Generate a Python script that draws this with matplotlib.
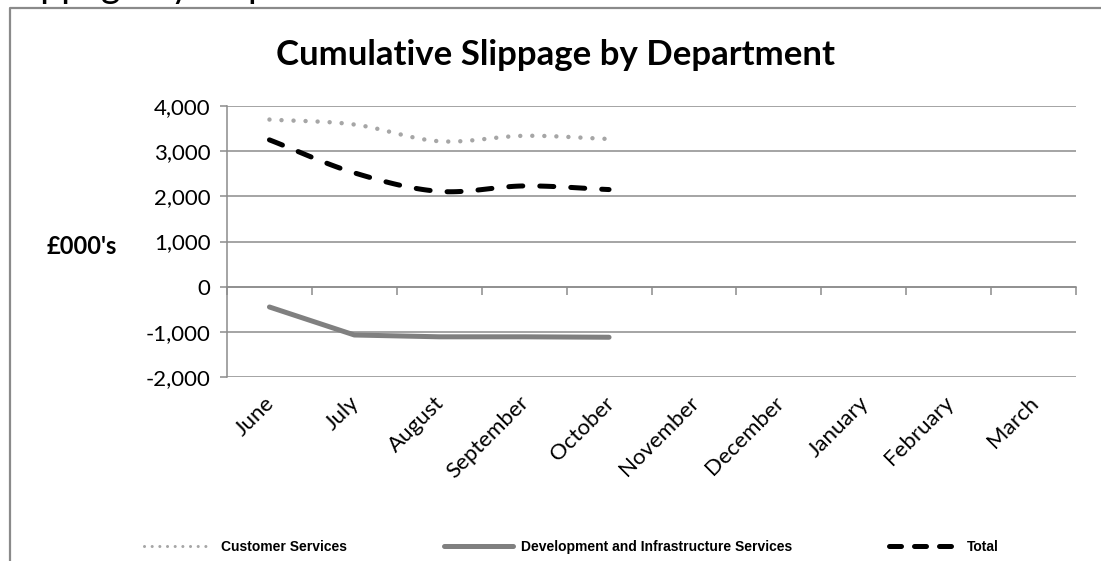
import numpy as np
import matplotlib
matplotlib.use("Agg")
import matplotlib.pyplot as plt
from matplotlib.lines import Line2D
from matplotlib.transforms import blended_transform_factory

months = ["June", "July", "August", "September", "October",
          "November", "December", "January", "February", "March"]
customer_services = [3700, 3590, 3220, 3340, 3270]
dev_infra_services = [-450, -1070, -1110, -1110, -1120]
total = [3250, 2520, 2110, 2230, 2150]
y_ticks = [-2000, -1000, 0, 1000, 2000, 3000, 4000]

W, H = 1101, 561
GRID = "#8c8c8c"
FONT = "Lato"


def smooth(xs, ys, n=30):
    # Catmull-Rom curve through the points, like a spreadsheet "smoothed line"
    xs = np.asarray(xs, float)
    ys = np.asarray(ys, float)
    px = np.concatenate([[2 * xs[0] - xs[1]], xs, [2 * xs[-1] - xs[-2]]])
    py = np.concatenate([[2 * ys[0] - ys[1]], ys, [2 * ys[-1] - ys[-2]]])
    out_x, out_y = [], []
    t = np.linspace(0, 1, n)
    for i in range(1, len(px) - 2):
        for p, out in ((px, out_x), (py, out_y)):
            p0, p1, p2, p3 = p[i - 1], p[i], p[i + 1], p[i + 2]
            c1 = p1 + (p2 - p0) / 6
            c2 = p2 - (p3 - p1) / 6
            out.extend((1 - t) ** 3 * p1 + 3 * (1 - t) ** 2 * t * c1
                       + 3 * (1 - t) * t ** 2 * c2 + t ** 3 * p2)
    return np.array(out_x), np.array(out_y)


fig = plt.figure(figsize=(W / 100, H / 100), dpi=100)
ax = fig.add_axes([227 / W, 1 - 377 / H, (1076 - 227) / W, (377 - 106) / H])

# outer chart frame, left and top edges only
fig.add_artist(Line2D([10 / W, 10 / W, 1], [0, 1 - 8 / H, 1 - 8 / H],
                      transform=fig.transFigure, color="#8a8a8a", lw=1.6))
fig.text(2 / W, 1 + 3 / H, "Slippage by Department", fontsize=27,
         family=FONT, va="baseline", ha="left")

x = np.arange(len(customer_services))
sx, sy = smooth(x, customer_services)
ax.plot(sx, sy, color="#a6a6a6", lw=3.2, dashes=(0.01, 2.7),
        dash_capstyle="round", zorder=3)
ax.plot(x, dev_infra_services, color="#808080", lw=3.6,
        solid_capstyle="round", solid_joinstyle="round", zorder=3)
sx, sy = smooth(x, total)
ax.plot(sx, sy, color="black", lw=3.6, dashes=(2.8, 3.4),
        dash_capstyle="round", zorder=4)

ax.set_xlim(-0.5, len(months) - 0.5)
ax.set_ylim(-2000, 4000)
ax.set_yticks(y_ticks)
ax.set_yticklabels([f"{v:,}" for v in y_ticks], family=FONT, fontsize=16)
ax.yaxis.grid(True, color=GRID, lw=1.1)
ax.set_axisbelow(True)
ax.tick_params(axis="y", length=5, width=1.1, color=GRID, pad=7)

for side in ("top", "right"):
    ax.spines[side].set_visible(False)
ax.spines["left"].set_color(GRID)
ax.spines["left"].set_linewidth(1.1)
ax.spines["bottom"].set_position(("data", 0))
ax.spines["bottom"].set_color(GRID)
ax.spines["bottom"].set_linewidth(1.1)
ax.set_xticks(np.arange(len(months) + 1) - 0.5)
ax.set_xticklabels([])
ax.tick_params(axis="x", length=6, width=1.1, color=GRID, direction="out")

trans = blended_transform_factory(ax.transData, ax.transAxes)
for i, m in enumerate(months):
    ax.text(i - 0.06, -0.058, m, transform=trans, rotation=45,
            rotation_mode="anchor", ha="right", va="top",
            family=FONT, fontsize=16)

fig.text(82 / W, 1 - 246 / H, "£000's", family=FONT, fontweight="bold",
         fontsize=17, ha="center", va="center")
fig.text(555 / W, 1 - 55 / H, "Cumulative Slippage by Department",
         family=FONT, fontweight="bold", fontsize=25, ha="center", va="center")

handles = [
    Line2D([], [], color="#a6a6a6", lw=2.2, dashes=(0.01, 2.5),
           dash_capstyle="round"),
    Line2D([], [], color="#808080", lw=3.6, solid_capstyle="round"),
    Line2D([], [], color="black", lw=3.6, dashes=(2.4, 2.6),
           dash_capstyle="round"),
]
labels = ["Customer Services", "Development and Infrastructure Services", "Total"]
fig.legend(handles, labels, loc="center", bbox_to_anchor=(571 / W, 1 - 547 / H),
           ncol=3, frameon=False, handlelength=5.0, handletextpad=0.55,
           columnspacing=7.0,
           prop={"family": "Liberation Sans", "weight": "bold", "size": 10})

fig.savefig("out.png", dpi=100)
